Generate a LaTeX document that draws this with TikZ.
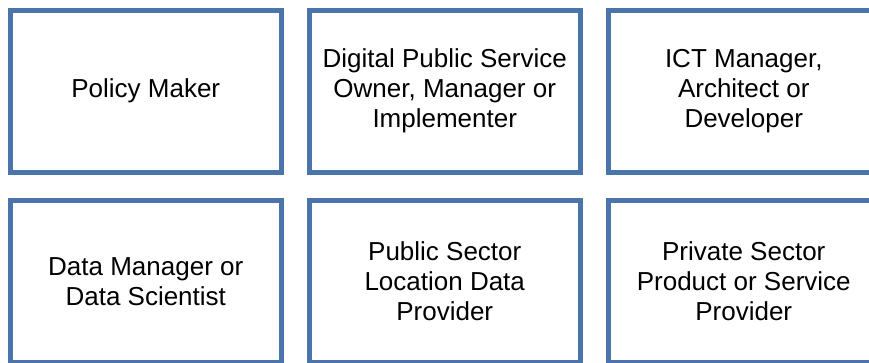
\documentclass[tikz,border=0pt]{standalone}
\usepackage{fontspec}
\setmainfont{Liberation Sans}
\definecolor{boxblue}{RGB}{74,116,170}
\begin{document}
\begin{tikzpicture}[x=1pt,y=-1pt,
  rolebox/.style={draw=boxblue, line width=5pt, rectangle, minimum width=271.5pt, minimum height=162pt,
    inner sep=0pt, align=center, font=\fontsize{26}{30}\selectfont, text=black}]
\useasboundingbox (0,0) rectangle (869,362);
\clip (0,0) rectangle (869,362);
\node[rolebox] (pm) at (145.75,91) {Policy Maker};
\node[rolebox] (dps) at (444.75,91) {Digital Public Service\\Owner, Manager or\\Implementer};
\node[rolebox] (ict) at (743.75,91) {ICT Manager,\\Architect or\\Developer};
\node[rolebox] (dm) at (145.75,281.25) {Data Manager or\\Data Scientist};
\node[rolebox] (psl) at (444.75,281.25) {Public Sector\\Location Data\\Provider};
\node[rolebox] (pps) at (743.75,281.25) {Private Sector\\Product or Service\\Provider};
\end{tikzpicture}
\end{document}
